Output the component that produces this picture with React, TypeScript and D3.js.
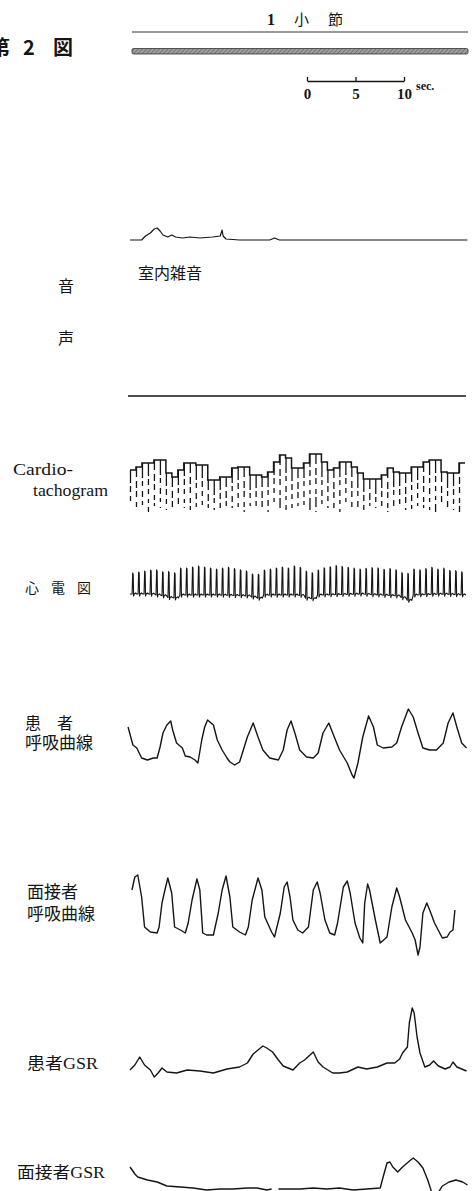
import React, { useRef, useEffect } from "react";
import * as d3 from "d3";

const W = 474;
const H = 1191;
const ink = "#151515";
const font = '"Liberation Serif", "Noto Sans CJK JP", serif';

// time axis of the recording (seconds)
const timeSpan = [0, 34.85];
const scaleBarTicks = [0, 5, 10];

// 音声 (室内雑音) [t, amplitude]
const sound: [number, number][] = [
  [0, 7], [1.2, 7], [1.6, 11], [2.1, 14], [2.5, 18], [2.8, 19], [3.1, 16], [3.4, 12],
  [3.9, 10], [4.3, 12], [4.7, 10], [5.4, 9], [6.2, 10], [7.2, 9], [8.5, 10], [9.3, 11],
  [9.5, 17], [9.6, 11], [9.9, 8], [11.3, 7], [14.4, 7], [14.9, 9], [15.4, 7], [19.6, 7],
  [25.8, 7], [34.8, 7],
];

// Cardiotachogram: rate per beat
const heartRate = [
  80, 83, 87, 87, 90, 90, 77, 73, 80, 87, 87, 85, 85, 70, 70, 73, 73, 82, 83, 83,
  75, 75, 73, 78, 88, 95, 92, 82, 82, 87, 96, 96, 88, 80, 82, 88, 88, 83, 77, 71,
  71, 71, 75, 82, 78, 77, 77, 83, 83, 88, 90, 90, 78, 77, 77, 87,
];

// 心電図: R wave height per beat, baseline drift [t, amplitude]
const ecgPeak = [
  21, 22, 23, 24, 25, 24, 26, 25, 27, 27, 28, 29, 28, 27, 26, 27, 28, 27, 26, 25,
  23, 24, 25, 26, 27, 28, 27, 29, 28, 27, 26, 25, 27, 28, 29, 28, 27, 26, 25, 26,
  27, 27, 26, 27, 26, 25, 27, 26, 25, 26, 27, 25, 26, 24, 24, 23,
];
const ecgDrift: [number, number][] = [
  [0, 0], [2.1, 0], [3.6, -2], [4.4, -5], [5.2, -1], [9.3, -1], [12.4, -2], [13.1, -5],
  [13.9, -1], [17.5, -1], [18.6, -6], [19.4, -1], [23.7, 0], [27.8, -2], [28.6, -7],
  [29.3, -1], [32.0, 0], [34.6, -1],
];

// 患者 呼吸曲線
const respPatient: [number, number][] = [
  [-0.2, 53], [0.3, 35], [0.7, 32], [1.2, 22], [1.8, 20], [2.4, 22], [2.8, 22], [3.1, 33],
  [3.4, 47], [3.8, 55], [4.2, 59], [4.4, 50], [4.8, 37], [5.4, 32], [5.7, 24], [6.2, 23],
  [6.7, 20], [7.0, 17], [7.4, 40], [7.7, 53], [8.0, 60], [8.6, 55], [9.0, 40], [9.5, 30],
  [10.0, 22], [10.3, 18], [10.8, 15], [11.3, 18], [12.1, 43], [12.7, 57], [13.2, 43],
  [13.7, 30], [14.4, 22], [15.3, 20], [15.8, 30], [16.2, 50], [16.6, 59], [17.0, 47],
  [17.5, 30], [18.2, 23], [18.9, 22], [19.4, 27], [19.9, 47], [20.5, 57], [20.9, 47],
  [21.6, 30], [22.4, 17], [22.9, 5], [23.1, 2], [23.5, 17], [24.0, 43], [24.6, 64],
  [25.1, 53], [25.5, 35], [26.1, 32], [27.0, 33], [27.5, 37], [28.0, 53], [28.7, 71],
  [29.2, 63], [29.7, 47], [30.2, 32], [30.9, 30], [31.6, 30], [32.3, 37], [32.8, 57],
  [33.3, 67], [33.7, 53], [34.2, 37], [34.7, 32],
];

// 面接者 呼吸曲線
const respInterviewer: [number, number][] = [
  [0.2, 70], [0.5, 83], [0.8, 85], [1.2, 63], [1.5, 33], [2.1, 28], [2.8, 27], [3.0, 33],
  [3.3, 57], [3.6, 70], [3.9, 82], [4.3, 67], [4.6, 33], [5.2, 30], [5.7, 27], [6.0, 37],
  [6.4, 60], [6.9, 81], [7.2, 70], [7.5, 27], [7.9, 25], [8.6, 25], [9.1, 47], [9.5, 70],
  [9.9, 84], [10.3, 63], [10.6, 33], [11.3, 28], [11.9, 25], [12.2, 33], [12.6, 60],
  [13.2, 82], [13.6, 70], [13.9, 43], [14.6, 28], [14.9, 23], [15.5, 47], [15.9, 73],
  [16.2, 78], [16.5, 63], [16.8, 40], [17.3, 30], [17.8, 27], [18.4, 33], [18.9, 70],
  [19.3, 78], [19.6, 67], [20.1, 40], [20.6, 27], [21.1, 25], [21.4, 37], [22.0, 73],
  [22.4, 79], [22.7, 67], [23.2, 37], [23.7, 22], [24.0, 17], [24.2, 57], [24.5, 76],
  [24.7, 70], [25.3, 40], [25.8, 17], [26.5, 23], [27.0, 53], [27.5, 72], [27.8, 63],
  [28.4, 40], [29.1, 27], [29.4, 20], [29.7, 5], [29.9, 13], [30.2, 47], [30.6, 57],
  [30.9, 50], [31.4, 37], [32.2, 22], [32.7, 23], [33.0, 28], [33.3, 30], [33.5, 50],
];

// 患者GSR
const gsrPatient: [number, number][] = [
  [0, 10], [0.5, 15], [1.0, 23], [1.5, 15], [2.1, 10], [2.5, 3], [2.9, 7], [3.3, 12],
  [3.8, 8], [4.8, 7], [5.9, 10], [7.2, 9], [8.6, 7], [10.0, 11], [11.3, 13], [12.1, 17],
  [12.7, 26], [13.2, 30], [13.7, 34], [14.1, 32], [14.7, 28], [15.3, 20], [15.8, 14],
  [16.8, 10], [17.5, 17], [18.0, 20], [18.9, 28], [19.4, 18], [19.9, 13], [20.4, 10],
  [20.9, 7], [21.6, 7], [22.4, 8], [23.5, 13], [24.4, 11], [25.5, 13], [26.5, 17],
  [27.3, 17], [27.8, 21], [28.1, 27], [28.6, 33], [28.8, 57], [29.1, 72], [29.3, 67],
  [29.6, 43], [29.9, 27], [30.4, 13], [30.9, 15], [31.3, 19], [31.8, 14], [32.5, 11],
  [33.0, 13], [33.3, 18], [33.7, 13], [34.2, 11], [34.7, 9],
];

// 面接者GSR (three pieces of the trace)
const gsrInterviewerA: [number, number][] = [
  [0, 28], [0.5, 21], [0.8, 18], [1.8, 15], [2.8, 13], [3.8, 9], [5.2, 8], [6.5, 7],
  [7.9, 5], [9.3, 6], [10.6, 6], [12.1, 7], [13.1, 7], [14.1, 5], [14.6, 6],
];
const gsrInterviewerB: [number, number][] = [
  [15.3, 6], [16.2, 6], [17.5, 6], [18.9, 7], [20.3, 6], [21.6, 7], [23.0, 5], [24.4, 6],
  [25.8, 7], [26.1, 18], [26.5, 32], [26.8, 33], [27.1, 28], [27.6, 23], [28.1, 28],
  [28.7, 33], [29.2, 37], [29.7, 33], [30.2, 27], [30.7, 15], [31.1, 3], [31.2, -2],
];
const gsrInterviewerC: [number, number][] = [
  [31.7, 1], [32.2, 9], [32.9, 13], [33.6, 15], [34.3, 13], [34.8, 10],
];

const x = d3.scaleLinear().domain(timeSpan).range([130, 468]);

const trace = (y: d3.ScaleLinear<number, number>) =>
  d3
    .line<[number, number]>()
    .x((d) => x(d[0]))
    .y((d) => y(d[1]));

const soundY = d3.scaleLinear().domain([0, 20]).range([247, 227]);
const respPY = d3.scaleLinear().domain([0, 80]).range([780, 700]);
const respIY = d3.scaleLinear().domain([0, 90]).range([960, 870]);
const gsrPY = d3.scaleLinear().domain([0, 80]).range([1080, 1000]);
const gsrIY = d3.scaleLinear().domain([0, 40]).range([1195, 1155]);
const ecgY = d3.scaleLinear().domain([-10, 40]).range([604, 554]);
const tachoY = d3.scaleLinear().domain([70, 96]).range([480, 454]);

const beats = d3.scaleBand<number>().domain(d3.range(heartRate.length)).range([130, 465]);
const bw = beats.bandwidth();

// interpolated ECG baseline
const drift = d3
  .scaleLinear()
  .domain(ecgDrift.map((d) => d[0]))
  .range(ecgDrift.map((d) => d[1]))
  .clamp(true);

function ecgPath() {
  const pts: [number, number][] = [];
  const base = (px: number) => ecgY(drift(x.invert(px)));
  pts.push([130, base(130)]);
  ecgPeak.forEach((h, i) => {
    const cx = (beats(i) as number) + bw * 0.5;
    const b = base(cx);
    const top = b - (ecgY(0) - ecgY(h));
    pts.push([cx - 0.9, b]);
    pts.push([cx - 0.3, top]);
    pts.push([cx + 0.2, top + 1]);
    pts.push([cx + 0.6, b + 2]);
    pts.push([cx + 1.2, b]);
    pts.push([cx + 2.6, b - 1]);
    pts.push([cx + 3.6, b]);
  });
  pts.push([466, base(466)]);
  return d3.line()(pts) || "";
}

function tachoStep() {
  const pts: [number, number][] = [];
  heartRate.forEach((r, i) => {
    const x0 = beats(i) as number;
    pts.push([x0, tachoY(r)]);
    pts.push([x0 + bw, tachoY(r)]);
  });
  return d3.line()(pts) || "";
}

const dashSets = ["13 3 6 4 5 5 4 4", "10 4 7 3 6 5 5 3", "15 3 5 5 6 4 4 5"];

export default function App() {
  const barRef = useRef<SVGGElement>(null);

  useEffect(() => {
    const sb = d3.scaleLinear().domain([0, 10]).range([307, 404]);
    const g = d3.select(barRef.current);
    g.selectAll("*").remove();
    g.call(
      d3
        .axisBottom(sb)
        .tickValues(scaleBarTicks)
        .tickSizeInner(-4)
        .tickSizeOuter(0)
        .tickPadding(7)
    );
    g.select(".domain").attr("stroke", ink).attr("stroke-width", 1.3);
    g.selectAll(".tick line").attr("stroke", ink).attr("stroke-width", 1.3);
    g.selectAll(".tick text")
      .attr("fill", ink)
      .attr("font-family", font)
      .attr("font-size", 15)
      .attr("font-weight", 700);
  }, []);

  const lineStyle = { fill: "none", stroke: ink, strokeWidth: 1.4, strokeLinejoin: "round" as const };
  const txt = { fontFamily: font, fill: ink };

  return (
    <svg
      width={W}
      height={H}
      style={{ position: "absolute", left: 0, top: 0, background: "#fff" }}
    >
      <defs>
        <pattern id="hatch" width="3" height="3" patternUnits="userSpaceOnUse" patternTransform="rotate(45)">
          <rect width="3" height="3" fill="#a0a0a0" />
          <line x1="0" y1="0" x2="0" y2="3" stroke="#555" strokeWidth="1.2" />
        </pattern>
      </defs>

      {/* title */}
      <text x={-10} y={55} {...txt} fontFamily='"Noto Sans CJK JP", sans-serif' fontSize={20} fontWeight={700}>
        第
      </text>
      <text x={23} y={55} {...txt} fontFamily='"Noto Sans CJK JP", sans-serif' fontSize={20} fontWeight={700}>
        2
      </text>
      <text x={53} y={55} {...txt} fontFamily='"Noto Sans CJK JP", sans-serif' fontSize={20} fontWeight={700}>
        図
      </text>

      {/* 1 小節 */}
      <text x={267} y={25} {...txt} fontSize={16} fontWeight={700}>1</text>
      <text x={294} y={25} {...txt} fontSize={15}>小</text>
      <text x={328} y={25} {...txt} fontSize={15}>節</text>
      <line x1={132} x2={468} y1={32} y2={32} stroke="#333" strokeWidth={1} />
      <rect x={132} y={48.5} width={336} height={5.5} rx={1.5} fill="url(#hatch)" stroke="#333" strokeWidth={0.8} />

      {/* scale bar */}
      <g ref={barRef} transform="translate(0,81)" />
      <text x={416} y={90} {...txt} fontSize={12} fontWeight={700}>sec.</text>

      {/* 音声 */}
      <path d={trace(soundY)(sound) || ""} {...lineStyle} strokeWidth={1.2} />
      <text x={138} y={279} {...txt} fontSize={16}>室内雑音</text>
      <text x={58} y={292} {...txt} fontSize={16}>音</text>
      <text x={58} y={344} {...txt} fontSize={16}>声</text>
      <line x1={128} x2={466} y1={396} y2={396} stroke={ink} strokeWidth={1.4} />

      {/* Cardiotachogram */}
      <text x={13} y={475} {...txt} fontSize={17} textLength={60} lengthAdjust="spacingAndGlyphs">Cardio-</text>
      <text x={33} y={496} {...txt} fontSize={17} textLength={75} lengthAdjust="spacingAndGlyphs">tachogram</text>
      <path d={tachoStep()} {...lineStyle} strokeWidth={1.5} strokeLinejoin="miter" />
      {heartRate.map((r, i) => (
        <line
          key={i}
          x1={(beats(i) as number) + 0.5}
          x2={(beats(i) as number) + 0.5}
          y1={tachoY(r)}
          y2={506 + (i % 4) * 2}
          stroke={ink}
          strokeWidth={1.3}
          strokeDasharray={dashSets[i % 3]}
        />
      ))}

      {/* 心電図 */}
      <text x={25} y={593} {...txt} fontSize={14} letterSpacing={12}>心電図</text>
      <path d={ecgPath()} {...lineStyle} strokeWidth={1.1} />

      {/* 患者 呼吸曲線 */}
      <text x={25} y={729} {...txt} fontSize={16} xmlSpace="preserve">患　者</text>
      <text x={25} y={749} {...txt} fontSize={17}>呼吸曲線</text>
      <path d={trace(respPY)(respPatient) || ""} {...lineStyle} />

      {/* 面接者 呼吸曲線 */}
      <text x={27} y={898} {...txt} fontSize={17}>面接者</text>
      <text x={27} y={920} {...txt} fontSize={17}>呼吸曲線</text>
      <path d={trace(respIY)(respInterviewer) || ""} {...lineStyle} />

      {/* 患者GSR */}
      <text x={27} y={1069} {...txt} fontSize={16} textLength={71} lengthAdjust="spacingAndGlyphs">患者GSR</text>
      <path d={trace(gsrPY)(gsrPatient) || ""} {...lineStyle} />

      {/* 面接者GSR */}
      <text x={17} y={1178} {...txt} fontSize={16} textLength={88} lengthAdjust="spacingAndGlyphs">面接者GSR</text>
      <path d={trace(gsrIY)(gsrInterviewerA) || ""} {...lineStyle} />
      <path d={trace(gsrIY)(gsrInterviewerB) || ""} {...lineStyle} />
      <path d={trace(gsrIY)(gsrInterviewerC) || ""} {...lineStyle} />
    </svg>
  );
}
